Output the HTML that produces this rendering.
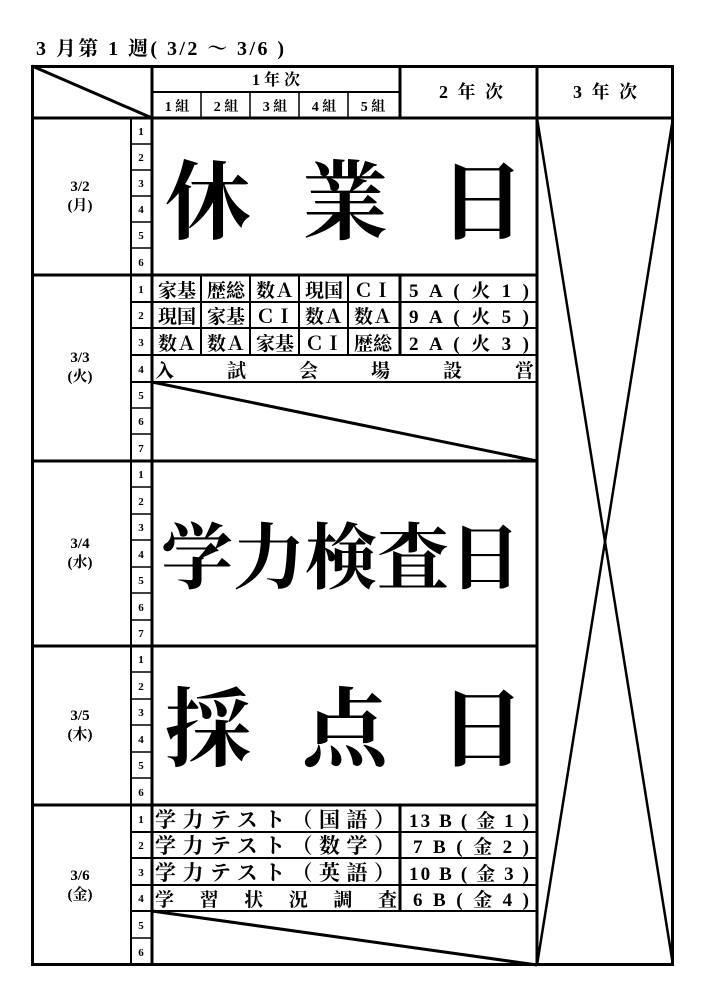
<!DOCTYPE html>
<html><head><meta charset="utf-8"><style>
html,body{margin:0;padding:0;background:#fff;}
svg{display:block;}
text{font-family:"Liberation Serif","Noto Serif CJK SC",serif;font-weight:bold;fill:#000;}
</style></head><body>
<svg width="705" height="1003" viewBox="0 0 705 1003" xmlns="http://www.w3.org/2000/svg">
<text x="36" y="55" font-size="20" textLength="248" lengthAdjust="spacing">3 月第 1 週( 3/2 ～ 3/6 )</text>

<g stroke="#000" fill="none">
<rect x="32.5" y="66.5" width="640" height="898" stroke-width="3"/>
<line x1="32" y1="118" x2="673" y2="118" stroke-width="3"/>
<line x1="152" y1="92" x2="400" y2="92" stroke-width="2"/>
<line x1="152" y1="66" x2="152" y2="965" stroke-width="3"/>
<line x1="400" y1="66" x2="400" y2="118" stroke-width="3"/>
<line x1="537" y1="66" x2="537" y2="965" stroke-width="3"/>
<line x1="201" y1="92" x2="201" y2="118" stroke-width="1.5"/>
<line x1="250" y1="92" x2="250" y2="118" stroke-width="1.5"/>
<line x1="299" y1="92" x2="299" y2="118" stroke-width="1.5"/>
<line x1="348" y1="92" x2="348" y2="118" stroke-width="1.5"/>
<line x1="32" y1="66" x2="152" y2="118" stroke-width="3"/>
<line x1="131" y1="118" x2="131" y2="965" stroke-width="2"/>
<line x1="32" y1="275" x2="537" y2="275" stroke-width="3"/>
<line x1="32" y1="461" x2="537" y2="461" stroke-width="3"/>
<line x1="32" y1="646" x2="537" y2="646" stroke-width="3"/>
<line x1="32" y1="805" x2="537" y2="805" stroke-width="3"/>
<g stroke-width="1.5">
<line x1="131" y1="144" x2="152" y2="144"/><line x1="131" y1="170" x2="152" y2="170"/><line x1="131" y1="196" x2="152" y2="196"/><line x1="131" y1="222" x2="152" y2="222"/><line x1="131" y1="248" x2="152" y2="248"/>
<line x1="131" y1="408" x2="152" y2="408"/><line x1="131" y1="434" x2="152" y2="434"/>
<line x1="131" y1="487" x2="152" y2="487"/><line x1="131" y1="514" x2="152" y2="514"/><line x1="131" y1="540" x2="152" y2="540"/><line x1="131" y1="567" x2="152" y2="567"/><line x1="131" y1="593" x2="152" y2="593"/><line x1="131" y1="620" x2="152" y2="620"/>
<line x1="131" y1="672" x2="152" y2="672"/><line x1="131" y1="699" x2="152" y2="699"/><line x1="131" y1="725" x2="152" y2="725"/><line x1="131" y1="752" x2="152" y2="752"/><line x1="131" y1="778" x2="152" y2="778"/>
<line x1="131" y1="938" x2="152" y2="938"/>
</g>
<g stroke-width="2">
<line x1="131" y1="302" x2="537" y2="302"/><line x1="131" y1="328" x2="537" y2="328"/><line x1="131" y1="355" x2="537" y2="355"/><line x1="131" y1="382" x2="537" y2="382"/>
<line x1="201" y1="275" x2="201" y2="355"/><line x1="250" y1="275" x2="250" y2="355"/><line x1="299" y1="275" x2="299" y2="355"/><line x1="348" y1="275" x2="348" y2="355"/>
</g>
<line x1="400" y1="275" x2="400" y2="355" stroke-width="3"/>
<line x1="152" y1="382" x2="537" y2="461" stroke-width="3"/>
<g stroke-width="2">
<line x1="131" y1="832" x2="537" y2="832"/><line x1="131" y1="858" x2="537" y2="858"/><line x1="131" y1="885" x2="537" y2="885"/><line x1="131" y1="911" x2="537" y2="911"/>
</g>
<line x1="400" y1="805" x2="400" y2="911" stroke-width="3"/>
<line x1="152" y1="911" x2="537" y2="965" stroke-width="3"/>
<line x1="537" y1="118" x2="673" y2="965" stroke-width="2.5"/>
<line x1="673" y1="118" x2="537" y2="965" stroke-width="2.5"/>
</g>

<text x="276" y="85" font-size="16" text-anchor="middle">1 年 次</text>
<g font-size="14" text-anchor="middle">
<text x="177" y="111">1 組</text><text x="226" y="111">2 組</text><text x="275" y="111">3 組</text><text x="324" y="111">4 組</text><text x="373" y="111">5 組</text>
</g>
<text x="439" y="98" font-size="18" textLength="64" lengthAdjust="spacing">2 年 次</text>
<text x="573" y="98" font-size="18" textLength="64" lengthAdjust="spacing">3 年 次</text>

<g font-size="11" text-anchor="middle">
<text x="141" y="135">1</text><text x="141" y="161">2</text><text x="141" y="187">3</text><text x="141" y="213">4</text><text x="141" y="239">5</text><text x="141" y="266">6</text>
<text x="141" y="293">1</text><text x="141" y="319">2</text><text x="141" y="346">3</text><text x="141" y="373">4</text><text x="141" y="399">5</text><text x="141" y="425">6</text><text x="141" y="452">7</text>
<text x="141" y="478">1</text><text x="141" y="505">2</text><text x="141" y="531">3</text><text x="141" y="558">4</text><text x="141" y="584">5</text><text x="141" y="611">6</text><text x="141" y="637">7</text>
<text x="141" y="663">1</text><text x="141" y="690">2</text><text x="141" y="716">3</text><text x="141" y="743">4</text><text x="141" y="769">5</text><text x="141" y="796">6</text>
<text x="141" y="823">1</text><text x="141" y="849">2</text><text x="141" y="876">3</text><text x="141" y="902">4</text><text x="141" y="929">5</text><text x="141" y="956">6</text>
</g>

<g font-size="15" text-anchor="middle">
<text x="80" y="191">3/2</text><text x="80" y="210">(月)</text>
<text x="80" y="362">3/3</text><text x="80" y="381">(火)</text>
<text x="80" y="548">3/4</text><text x="80" y="567">(水)</text>
<text x="80" y="720">3/5</text><text x="80" y="739">(木)</text>
<text x="80" y="880">3/6</text><text x="80" y="899">(金)</text>
</g>

<g font-size="86" text-anchor="middle">
<text x="208" y="232">休</text><text x="345" y="232">業</text><text x="482" y="232">日</text>
<text x="208" y="759">採</text><text x="345" y="759">点</text><text x="482" y="759">日</text>
</g>
<g font-size="72" text-anchor="middle">
<text x="197" y="583">学</text><text x="269" y="583">力</text><text x="341" y="583">検</text><text x="413" y="583">査</text><text x="485" y="583">日</text>
</g>

<g font-size="19" text-anchor="middle">
<text x="177" y="297">家基</text><text x="226" y="297">歴総</text><text x="275" y="297">数Ａ</text><text x="324" y="297">現国</text><text x="373" y="297">ＣＩ</text>
<text x="177" y="323">現国</text><text x="226" y="323">家基</text><text x="275" y="323">ＣＩ</text><text x="324" y="323">数Ａ</text><text x="373" y="323">数Ａ</text>
<text x="177" y="350">数Ａ</text><text x="226" y="350">数Ａ</text><text x="275" y="350">家基</text><text x="324" y="350">ＣＩ</text><text x="373" y="350">歴総</text>
</g>
<g font-size="19">
<text x="409" y="297" textLength="120" lengthAdjust="spacing">5 A ( 火 1 )</text>
<text x="409" y="323" textLength="120" lengthAdjust="spacing">9 A ( 火 5 )</text>
<text x="409" y="350" textLength="120" lengthAdjust="spacing">2 A ( 火 3 )</text>
<text x="155" y="377" textLength="379" lengthAdjust="spacing">入　　試　　会　　場　　設　　営</text>
<text x="155" y="827" font-size="21" textLength="240" lengthAdjust="spacing">学力テスト（国語）</text>
<text x="155" y="853" font-size="21" textLength="240" lengthAdjust="spacing">学力テスト（数学）</text>
<text x="155" y="880" font-size="21" textLength="240" lengthAdjust="spacing">学力テスト（英語）</text>
<text x="155" y="906" textLength="242" lengthAdjust="spacing">学　習　状　況　調　査</text>
<text x="409" y="827" textLength="120" lengthAdjust="spacing">13 B ( 金 1 )</text>
<text x="413" y="853" textLength="116" lengthAdjust="spacing">7 B ( 金 2 )</text>
<text x="409" y="880" textLength="120" lengthAdjust="spacing">10 B ( 金 3 )</text>
<text x="413" y="906" textLength="116" lengthAdjust="spacing">6 B ( 金 4 )</text>
</g>
</svg>
</body></html>
